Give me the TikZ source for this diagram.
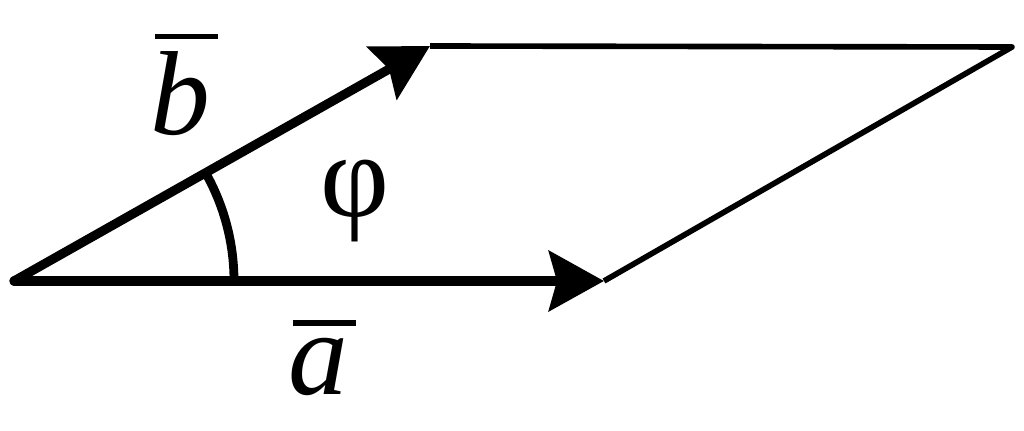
\documentclass[tikz,border=0pt]{standalone}
\usepackage{fontspec}
\setmainfont{Liberation Serif}
\usetikzlibrary{arrows.meta}
\tikzset{
  vec/.style={line width=2.6pt,line cap=round,
    -{Stealth[length=.55cm,width=.6cm,inset=.08cm]}},
  side/.style={line width=1.6pt,line join=round},
  lbl/.style={font=\fontsize{34}{40}\selectfont,inner sep=0pt,anchor=base},
}
\newcommand{\barred}[1]{\setbox0\hbox{\itshape #1}%
  \rlap{\kern.04em\rule[\dimexpr\ht0+.11em]{\dimexpr\wd0+.03em}{.045em}}\box0}
\begin{document}
\begin{tikzpicture}[x=.01cm,y=-.01cm]
  \useasboundingbox (0,0) rectangle (1024,431);
  \coordinate (o) at (14,281);
  \coordinate (a) at (604,281);
  \coordinate (b) at (430,46);
  \coordinate (c) at (1012,47);
  \draw[side] (b) -- (c) -- (a);
  \draw[line width=2.5pt] (234,281) arc[start angle=0,end angle=29.4,radius=2.2cm];
  \draw[vec] (o) -- (a);
  \draw[vec] (o) -- (b);
  \node[lbl] (la) at (318,395) {\barred{a}};
  \node[lbl] (lb) at (180,135) {\barred{b}};
  \node[lbl] (lphi) at (355,217) {φ};
\end{tikzpicture}
\end{document}
